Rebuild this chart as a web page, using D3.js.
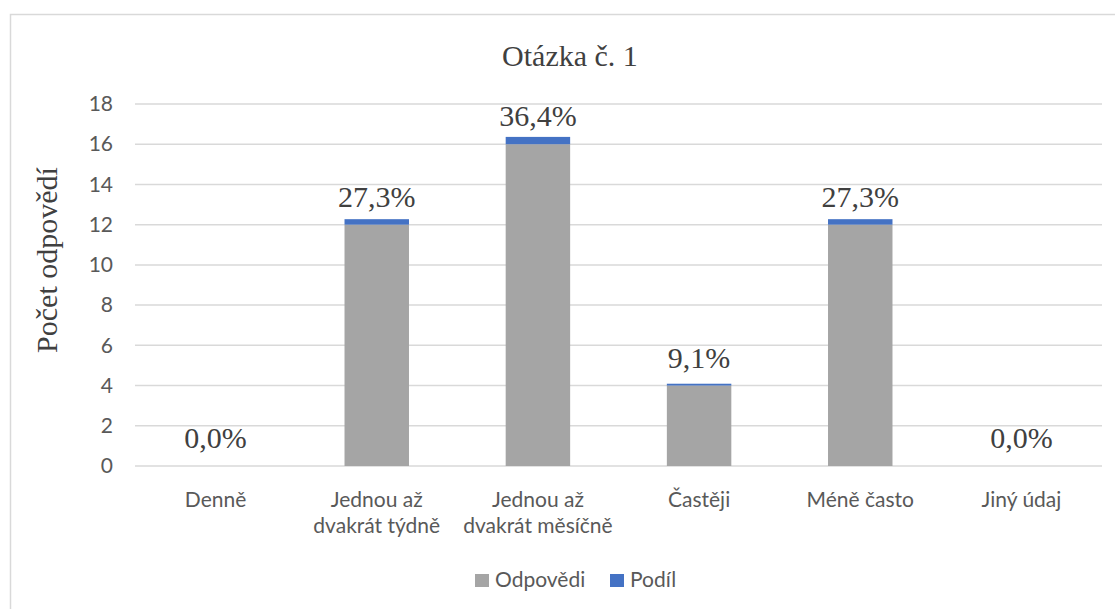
<!DOCTYPE html>
<html>
<head>
<meta charset="utf-8">
<script src="https://cdn.jsdelivr.net/npm/d3@7"></script>
<style>
  html, body { margin: 0; padding: 0; background: #fff; }
  svg { display: block; }
</style>
</head>
<body>
<svg id="chart" width="1115" height="609"></svg>
<script>
// ---- data ----
const categories = [
  ["Denně"],
  ["Jednou až", "dvakrát týdně"],
  ["Jednou až", "dvakrát měsíčně"],
  ["Častěji"],
  ["Méně často"],
  ["Jiný údaj"]
];
const odpovedi = [0, 12, 16, 4, 12, 0];
const podil = [0, 0.273, 0.364, 0.091, 0.273, 0];
const labels = ["0,0%", "27,3%", "36,4%", "9,1%", "27,3%", "0,0%"];
const yTicks = [0, 2, 4, 6, 8, 10, 12, 14, 16, 18];
const seriesNames = ["Odpovědi", "Podíl"];
const colors = ["#A5A5A5", "#4472C4"];
const titleText = "Otázka č. 1";
const yTitleText = "Počet odpovědí";

// ---- drawing ----
const svg = d3.select("#chart");
const sans = "Lato, 'Open Sans', sans-serif";
const serif = "'Liberation Serif', 'Times New Roman', serif";

svg.append("rect")
  .attr("x", 10.5).attr("y", 14.5)
  .attr("width", 1130).attr("height", 640)
  .attr("fill", "#fff").attr("stroke", "#d9d9d9").attr("stroke-width", 1.5);

const x = d3.scaleBand()
  .domain(d3.range(categories.length))
  .range([135, 1102])
  .paddingInner(0.6)
  .paddingOuter(0.3);

const y = d3.scaleLinear().domain([0, 18]).range([466, 104]);

// gridlines
svg.append("g").selectAll("line")
  .data(yTicks)
  .join("line")
  .attr("x1", 135).attr("x2", 1102)
  .attr("y1", d => y(d)).attr("y2", d => y(d))
  .attr("stroke", "#d9d9d9").attr("stroke-width", 1.5);

// y axis labels
const yAxis = d3.axisLeft(y).tickValues(yTicks).tickSize(0).tickPadding(0);
const gy = svg.append("g").attr("transform", "translate(113,0)").call(yAxis);
gy.select(".domain").remove();
gy.selectAll("text")
  .attr("font-family", sans).attr("font-size", 21)
  .attr("fill", "#595959");

// stacked bars
const stackData = categories.map((c, i) => ({ i, a: odpovedi[i], b: podil[i] }));
const stack = d3.stack().keys(["a", "b"])(stackData);
svg.append("g").selectAll("g")
  .data(stack)
  .join("g")
  .attr("fill", (d, k) => colors[k])
  .selectAll("rect")
  .data(d => d)
  .join("rect")
  .attr("x", d => x(d.data.i))
  .attr("width", x.bandwidth())
  .attr("y", d => y(d[1]))
  .attr("height", d => Math.max(0, y(d[0]) - y(d[1])));

// data labels
svg.append("g").selectAll("text")
  .data(stackData)
  .join("text")
  .attr("x", d => x(d.i) + x.bandwidth() / 2)
  .attr("y", d => y(d.a) - 18)
  .attr("text-anchor", "middle")
  .attr("font-family", serif).attr("font-size", 30)
  .attr("fill", "#404040")
  .text((d, i) => labels[i]);

// category labels
const cat = svg.append("g").selectAll("text")
  .data(categories)
  .join("text")
  .attr("x", (d, i) => x(i) + x.bandwidth() / 2)
  .attr("y", 507)
  .attr("text-anchor", "middle")
  .attr("font-family", sans).attr("font-size", 21)
  .attr("fill", "#595959");
cat.selectAll("tspan")
  .data(d => d)
  .join("tspan")
  .attr("x", function () { return d3.select(this.parentNode).attr("x"); })
  .attr("dy", (d, j) => j === 0 ? 0 : 26)
  .text(d => d);

// title
svg.append("text")
  .attr("x", 570).attr("y", 66)
  .attr("text-anchor", "middle")
  .attr("font-family", serif).attr("font-size", 30)
  .attr("fill", "#404040")
  .text(titleText);

// y title
svg.append("text")
  .attr("transform", "translate(57,260) rotate(-90)")
  .attr("text-anchor", "middle")
  .attr("font-family", serif).attr("font-size", 30)
  .attr("fill", "#404040")
  .text(yTitleText);

// legend
const legendX = [475, 610];
const lg = svg.append("g").selectAll("g")
  .data(seriesNames)
  .join("g")
  .attr("transform", (d, i) => `translate(${legendX[i]},574)`);
lg.append("rect").attr("width", 14).attr("height", 13)
  .attr("fill", (d, i) => colors[i]);
lg.append("text")
  .attr("x", 20).attr("y", 13)
  .attr("font-family", sans).attr("font-size", 21)
  .attr("fill", "#595959")
  .text(d => d);
</script>
</body>
</html>
